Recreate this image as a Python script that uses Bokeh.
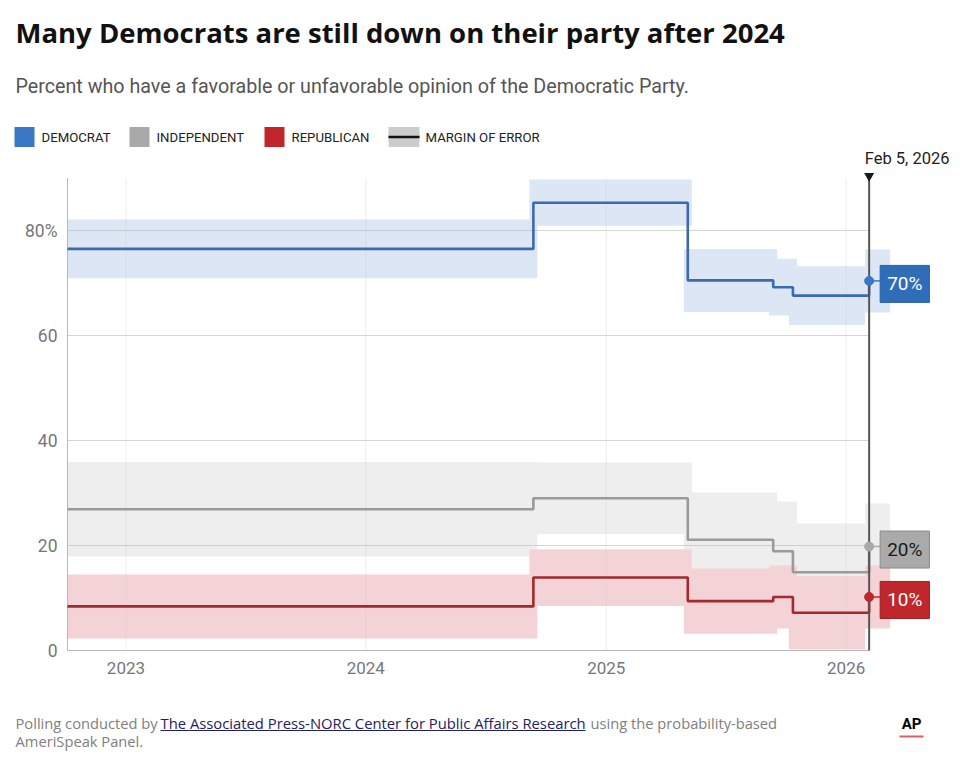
import pandas as pd
from bokeh.plotting import figure
from bokeh.layouts import column
from bokeh.models import Range1d, FixedTicker, DatetimeTickFormatter, Label, ColumnDataSource
from bokeh.core.properties import value
from bokeh.embed import file_html
from bokeh.resources import INLINE

# ---------------- data ----------------
poll_dates = ["2022-10-04", "2024-09-12", "2025-05-05", "2025-09-12", "2025-10-12", "2026-02-05"]
dem = [76.5, 85.3, 70.5, 69.2, 67.6, 70.4]
dem_moe = [5.6, 4.4, 6.0, 5.4, 5.6, 6.0]
ind = [26.9, 29.0, 21.1, 18.9, 14.9, 19.8]
ind_moe = [9.0, 6.8, 9.0, 9.5, 9.3, 8.2]
rep = [8.4, 13.9, 9.4, 10.2, 7.2, 10.2]
rep_moe = [6.1, 5.4, 6.2, 6.0, 7.0, 6.0]

year_ticks = ["2023-01-01", "2024-01-01", "2025-01-01", "2026-01-01"]
y_ticks = [0, 20, 40, 60, 80]
y_tick_labels = ["0", "20", "40", "60", "80%"]
y_top = 90
legend_labels = ["DEMOCRAT", "INDEPENDENT", "REPUBLICAN", "MARGIN OF ERROR"]
marker_label = "Feb 5, 2026"

title = "Many Democrats are still down on their party after 2024"
subtitle = "Percent who have a favorable or unfavorable opinion of the Democratic Party."
footer_a = "Polling conducted by "
footer_link = "The Associated Press-NORC Center for Public Affairs Research"
footer_b = " using the probability-based"
footer_c = "AmeriSpeak Panel."

# ---------------- styling ----------------
FONT = "Roboto"
VFONT = value(FONT)
VFONT2 = value("Open Sans")
BLUE, GRAY, RED = "#3a78c6", "#a9a9a9", "#c0272d"
LINE_BLUE, LINE_GRAY, LINE_RED = "#3d6aae", "#9a9a9a", "#a3282f"
BAND_BLUE, BAND_GRAY, BAND_RED = "#dce6f4", "#eeeeee", "#f4d3d7"

W = 956
HEAD_H, FOOT_H = 170, 66
FRAME_TOP_Y, ZERO_Y, FRAME_BOTTOM_Y, FOOT_Y = 170, 650, 653, 690
MAIN_H = FOOT_Y - FRAME_TOP_Y
PX_PER_DAY = 240 / 365.25
PX_PER_PT = 5.25


def days(px):
    return pd.Timedelta(days=px / PX_PER_DAY)


dates = pd.to_datetime(poll_dates)
n = len(dates)
first, last = dates[0], dates[-1]
year_dt = pd.to_datetime(year_ticks)
year_ms = [t.value / 1e6 for t in year_dt]


def blank(h):
    f = figure(width=W, height=h, output_backend="svg", toolbar_location=None,
               x_range=Range1d(0, W), y_range=Range1d(h, 0), frame_align=False,
               min_border=0, x_axis_type=None, y_axis_type=None)
    f.outline_line_color = None
    f.grid.visible = False
    return f


# ---------------- header (y = visual text centre) ----------------
head = blank(HEAD_H)
head.text(x=[15], y=[31.7], text=[title], text_font=VFONT2, text_font_style="bold",
          text_font_size="27.5px", text_color="#111111", text_baseline="middle")
head.text(x=[15], y=[85.5], text=[subtitle], text_font=VFONT, text_font_size="19.7px",
          text_color="#555555", text_baseline="middle")
sw_left = [14, 129, 264]
head.quad(left=sw_left, right=[s + 20 for s in sw_left], top=[126.5] * 3, bottom=[146.5] * 3,
          fill_color=[BLUE, GRAY, RED], line_color=None)
head.quad(left=[388], right=[419], top=[126.5], bottom=[146.5], fill_color="#cccccc", line_color=None)
head.segment(x0=[388], x1=[419], y0=[136.5], y1=[136.5], line_color="#111111", line_width=2.5)
head.text(x=[41, 156, 291, 425], y=[137.3] * 4, text=legend_labels, text_font=VFONT,
          text_font_size="13.2px", text_color="#222222", text_baseline="middle")
head.text(x=[949], y=[157.5], text=[marker_label], text_align="right", text_baseline="middle",
          text_font=VFONT, text_font_size="16.5px", text_color="#222222")

# ---------------- main chart ----------------
v_top = (ZERO_Y - FRAME_TOP_Y) / PX_PER_PT
v_bot = (ZERO_Y - FRAME_BOTTOM_Y) / PX_PER_PT
x_lo = first - days(7)
x_hi = first + days(W - 67)

p = figure(width=W, height=MAIN_H, output_backend="svg", toolbar_location=None,
           x_axis_type="datetime", x_range=Range1d(x_lo, x_hi), y_range=Range1d(v_bot, v_top),
           min_border_left=60, min_border_right=0, min_border_top=0, frame_align=False,
           min_border_bottom=MAIN_H - (FRAME_BOTTOM_Y - FRAME_TOP_Y))
p.outline_line_color = None
p.grid.visible = False

p.xaxis.ticker = FixedTicker(ticks=year_ms)
p.xaxis.formatter = DatetimeTickFormatter(years="%Y", months="%Y", days="%Y")
p.xaxis.axis_line_color = None
p.xaxis.major_tick_line_color = None
p.xaxis.minor_tick_line_color = None
p.xaxis.major_tick_out = 0
p.xaxis.minor_tick_out = 0
p.xaxis.major_label_text_font = FONT
p.xaxis.major_label_text_font_size = "17px"
p.xaxis.major_label_text_color = "#777777"
p.xaxis.major_label_standoff = 8

p.yaxis.ticker = FixedTicker(ticks=y_ticks)
p.yaxis.major_label_overrides = dict(zip(y_ticks, y_tick_labels))
p.yaxis.axis_line_color = None
p.yaxis.major_tick_line_color = None
p.yaxis.minor_tick_line_color = None
p.yaxis.major_tick_out = 0
p.yaxis.minor_tick_out = 0
p.yaxis.major_label_text_font = FONT
p.yaxis.major_label_text_font_size = "17.5px"
p.yaxis.major_label_text_color = "#777777"
p.yaxis.major_label_standoff = 3

pad = days(4)


def bands(vals, moes):
    left, right, top, bottom = [], [], [], []
    for i in range(n):
        left.append(max(dates[i] - pad, first))
        if i < n - 2:
            right.append(dates[i + 1] + pad)
        elif i == n - 2:
            right.append(dates[n - 1] - pad)
        else:
            right.append(dates[n - 1] + days(21))
        top.append(vals[i] + moes[i])
        bottom.append(vals[i] - moes[i])
    return ColumnDataSource(dict(left=left, right=right, top=top, bottom=bottom))


for vals, moes, col in ((ind, ind_moe, BAND_GRAY), (rep, rep_moe, BAND_RED), (dem, dem_moe, BAND_BLUE)):
    p.quad(source=bands(vals, moes), left="left", right="right", top="top", bottom="bottom",
           fill_color=col, line_color=None)

# grid lines (ending at the marker)
p.segment(x0=list(year_dt), x1=list(year_dt), y0=[0] * len(year_dt), y1=[y_top] * len(year_dt),
          line_color="#cfcfcf", line_alpha=0.35, line_width=1)
p.segment(x0=[first] * 4, x1=[last] * 4, y0=y_ticks[1:], y1=y_ticks[1:],
          line_color="#b5b5b5", line_alpha=0.55, line_width=1)
# axis lines
p.segment(x0=[first], x1=[first], y0=[0], y1=[y_top], line_color="#b8b8b8", line_width=1)
p.segment(x0=[first], x1=[last], y0=[0], y1=[0], line_color="#b8b8b8", line_width=1.2)

for vals, col in ((ind, LINE_GRAY), (rep, LINE_RED), (dem, LINE_BLUE)):
    p.step(x=dates, y=vals, mode="after", line_color=col, line_width=2.6)

# marker line for latest poll
p.segment(x0=[last], x1=[last], y0=[0], y1=[y_top], line_color="#555555", line_width=2)
p.scatter(x=[last], y=[y_top + 0.4], marker="inverted_triangle", size=10,
          fill_color="#1a1a1a", line_color=None)

# end dots, connectors and value boxes
ends = [(dem[-1], BLUE, "#2a62a8", "#2f6db8", "white"),
        (ind[-1], GRAY, "#8a8a8a", "#aaaaaa", "#1a1a1a"),
        (rep[-1], RED, "#9e1f25", "#c0272d", "white")]
for v, dot_col, border, fill, tc in ends:
    p.segment(x0=[last], x1=[last + days(12)], y0=[v], y1=[v], line_color=dot_col, line_width=1.5)
    p.scatter(x=[last], y=[v], size=9, fill_color=dot_col, line_color=dot_col)
    p.add_layout(Label(x=last.value / 1e6, y=v, x_offset=11, y_offset=-3, text=f"{round(v)}%",
                       text_align="left", text_baseline="middle", text_font=FONT,
                       text_font_size="19px", text_color=tc, background_fill_color=fill,
                       border_line_color=border, border_line_width=1, padding=7))

# ---------------- footer (y = visual text centre) ----------------
foot = blank(FOOT_H)
fy1, fy2 = 722 - FOOT_Y, 740 - FOOT_Y
foot.text(x=[15, 590, 15], y=[fy1, fy1, fy2], text=[footer_a, footer_b, footer_c], text_font=VFONT2,
          text_font_size="14.7px", text_color="#808080", text_baseline="middle")
foot.text(x=[160], y=[fy1], text=[footer_link], text_font=VFONT2, text_font_size="14.8px",
          text_color="#1f2160", text_baseline="middle")
foot.segment(x0=[160], x1=[585], y0=[730 - FOOT_Y], y1=[730 - FOOT_Y], line_color="#1f2160", line_width=1)
foot.text(x=[911], y=[723 - FOOT_Y], text=["AP"], text_font=VFONT, text_font_style="bold",
          text_font_size="15px", text_color="#000000", text_align="center", text_baseline="middle")
foot.segment(x0=[899], x1=[923], y0=[736 - FOOT_Y], y1=[736 - FOOT_Y], line_color="#d9605f", line_width=2)

layout = column(head, p, foot, spacing=0)
open("out.html", "w").write(file_html(layout, INLINE))
